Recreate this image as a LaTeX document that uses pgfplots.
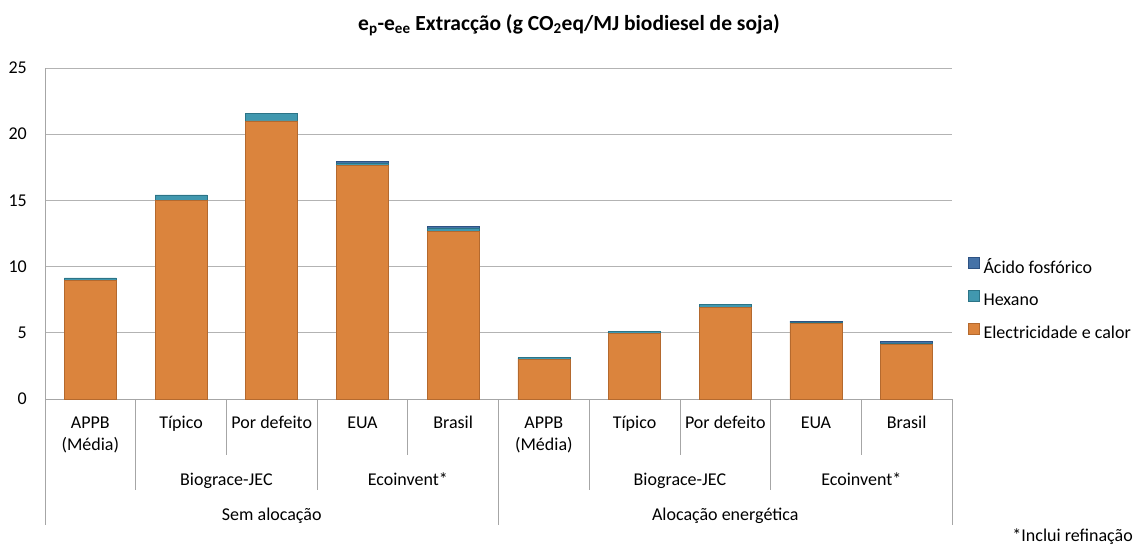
\documentclass[border=0pt]{standalone}
\usepackage{fontspec}
\setmainfont{Carlito}
\usepackage{pgfplots}
\pgfplotsset{compat=1.18}
\definecolor{elec}{HTML}{DB843D}
\definecolor{elecd}{HTML}{B4692E}
\definecolor{hex}{HTML}{4198AF}
\definecolor{hexd}{HTML}{2C7487}
\definecolor{phos}{HTML}{4572A7}
\definecolor{phosd}{HTML}{2D5283}
\definecolor{axisgray}{HTML}{A6A6A6}
\definecolor{gridgray}{HTML}{B3B3B3}
\newcommand{\fs}{\fontsize{18}{21.6}\selectfont}

\pgfplotstableread{
x elec hex phos
0 8.95 0.20 0.00
1 15.00 0.42 0.00
2 21.00 0.60 0.00
3 17.62 0.18 0.15
4 12.65 0.24 0.15
5 3.00 0.12 0.00
6 4.95 0.17 0.00
7 6.93 0.24 0.00
8 5.72 0.07 0.10
9 4.15 0.08 0.10
}\datatable

\begin{document}
\begin{tikzpicture}
\useasboundingbox (0,0) rectangle (1134pt,-546pt);
\begin{axis}[
  at={(45pt,-399pt)}, anchor=south west,
  scale only axis, width=907pt, height=331pt,
  xmin=-0.5, xmax=9.5, ymin=0, ymax=25,
  ytick={0,5,...,25}, xtick=\empty,
  ymajorgrids, grid style={color=gridgray, line width=0.8pt},
  axis x line*=bottom, axis y line*=left,
  axis line style={color=axisgray, line width=0.8pt},
  major tick length=0pt,
  /pgf/number format/assume math mode=true,
  yticklabel style={font=\fs, inner sep=0pt, xshift=-18pt},
  ybar stacked, bar width=0.573,
  clip=false,
  legend image code/.code={\draw[#1] (0pt,0pt) rectangle (11pt,11pt);},
  legend style={at={(1.0176,0.428)}, anchor=north west, draw=none, fill=none,
    inner sep=0pt, outer sep=0pt, font=\fs, row sep=14pt,
    nodes={inner sep=0pt, text height=12pt, text depth=3pt},
    /tikz/every odd column/.append style={column sep=4pt}},
  legend cell align=left,
  reverse legend,
]
\addplot[fill=elec, draw=elecd, line width=0.6pt] table[x=x, y=elec] {\datatable};
\addlegendentry{Electricidade e calor}
\addplot[fill=hex, draw=hexd, line width=0.6pt] table[x=x, y=hex] {\datatable};
\addlegendentry{Hexano}
\addplot[fill=phos, draw=phosd, line width=0.6pt] table[x=x, y=phos] {\datatable};
\addlegendentry{Ácido fosfórico}

% separators
\draw[axisgray, line width=0.8pt] (axis cs:-0.5,0) -- ++(0pt,-126pt);
\draw[axisgray, line width=0.8pt] (axis cs:0.5,0) -- ++(0pt,-91pt);
\draw[axisgray, line width=0.8pt] (axis cs:1.5,0) -- ++(0pt,-56pt);
\draw[axisgray, line width=0.8pt] (axis cs:2.5,0) -- ++(0pt,-91pt);
\draw[axisgray, line width=0.8pt] (axis cs:3.5,0) -- ++(0pt,-56pt);
\draw[axisgray, line width=0.8pt] (axis cs:4.5,0) -- ++(0pt,-126pt);
\draw[axisgray, line width=0.8pt] (axis cs:5.5,0) -- ++(0pt,-91pt);
\draw[axisgray, line width=0.8pt] (axis cs:6.5,0) -- ++(0pt,-56pt);
\draw[axisgray, line width=0.8pt] (axis cs:7.5,0) -- ++(0pt,-91pt);
\draw[axisgray, line width=0.8pt] (axis cs:8.5,0) -- ++(0pt,-56pt);
\draw[axisgray, line width=0.8pt] (axis cs:9.5,0) -- ++(0pt,-126pt);

% level 1 labels
\node[anchor=base, font=\fs, yshift=-29pt] at (axis cs:0,0) {APPB};
\node[anchor=base, font=\fs, yshift=-51pt] at (axis cs:0,0) {(Média)};
\node[anchor=base, font=\fs, yshift=-29pt] at (axis cs:1,0) {Típico};
\node[anchor=base, font=\fs, yshift=-29pt] at (axis cs:2,0) {Por defeito};
\node[anchor=base, font=\fs, yshift=-29pt] at (axis cs:3,0) {EUA};
\node[anchor=base, font=\fs, yshift=-29pt] at (axis cs:4,0) {Brasil};
\node[anchor=base, font=\fs, yshift=-29pt] at (axis cs:5,0) {APPB};
\node[anchor=base, font=\fs, yshift=-51pt] at (axis cs:5,0) {(Média)};
\node[anchor=base, font=\fs, yshift=-29pt] at (axis cs:6,0) {Típico};
\node[anchor=base, font=\fs, yshift=-29pt] at (axis cs:7,0) {Por defeito};
\node[anchor=base, font=\fs, yshift=-29pt] at (axis cs:8,0) {EUA};
\node[anchor=base, font=\fs, yshift=-29pt] at (axis cs:9,0) {Brasil};
% level 2 labels
\node[anchor=base, font=\fs, yshift=-86pt] at (axis cs:1.5,0) {Biograce-JEC};
\node[anchor=base, font=\fs, yshift=-86pt] at (axis cs:3.5,0) {Ecoinvent*};
\node[anchor=base, font=\fs, yshift=-86pt] at (axis cs:6.5,0) {Biograce-JEC};
\node[anchor=base, font=\fs, yshift=-86pt] at (axis cs:8.5,0) {Ecoinvent*};
% level 3 labels
\node[anchor=base, font=\fs, yshift=-121pt] at (axis cs:2,0) {Sem alocação};
\node[anchor=base, font=\fs, yshift=-121pt] at (axis cs:7,0) {Alocação energética};
\end{axis}
\node[anchor=base, font=\fontsize{21.5}{25}\selectfont\bfseries] at (569pt,-30pt)
  {e\textsubscript{p}-e\textsubscript{ee} Extracção (g CO\textsubscript{2}eq/MJ biodiesel de soja)};
\node[anchor=base east, font=\fs, inner sep=0pt] at (1133pt,-541pt) {*Inclui refinação};
\end{tikzpicture}
\end{document}
